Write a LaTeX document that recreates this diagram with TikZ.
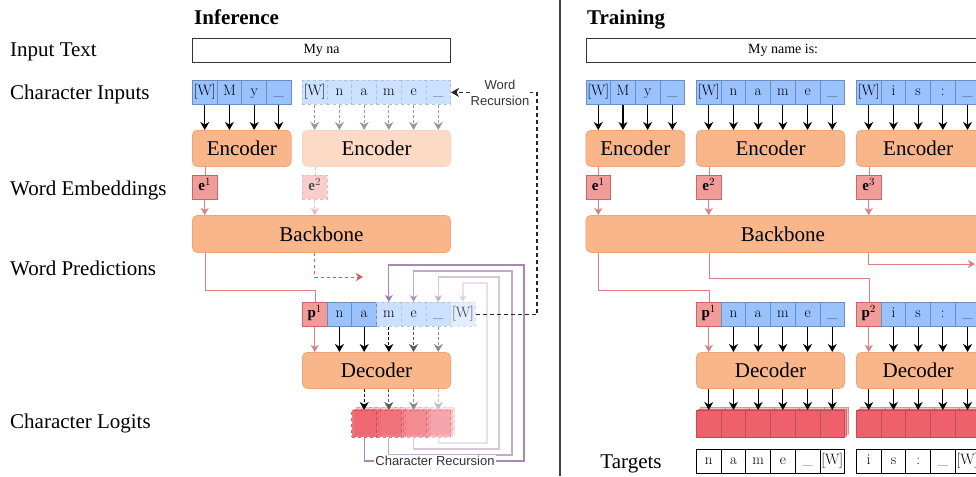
\documentclass[tikz,border=0pt]{standalone}
\usepackage{fontspec}
\setmainfont{Liberation Serif}
\newfontfamily\sansf{Liberation Sans}
\newfontfamily\lmfont{Latin Modern Roman}
\usetikzlibrary{arrows.meta,positioning,calc}

\definecolor{cellblue}{HTML}{99C2FF}
\definecolor{cellline}{HTML}{6C8EBF}
\definecolor{boxorange}{HTML}{F9B68A}
\definecolor{boxline}{HTML}{EFA577}
\definecolor{embred}{HTML}{F19C99}
\definecolor{embline}{HTML}{C8646A}
\definecolor{logitred}{HTML}{EE606B}
\definecolor{predline}{HTML}{DB7F80}
\definecolor{predred}{HTML}{D65B5F}
\definecolor{recpurple}{HTML}{9673A6}

\tikzset{
  lbl/.style={anchor=base west, inner sep=0pt, font=\fontsize{21}{24}\selectfont},
  ttl/.style={anchor=base west, inner sep=0pt, font=\bfseries\fontsize{21}{24}\selectfont},
  txtbox/.style={draw=black!80, line width=1.2pt, anchor=north west, minimum height=24pt, inner sep=0pt, font=\fontsize{14}{16}\selectfont},
  chr/.style={draw=cellline, fill=cellblue, anchor=north west, minimum width=24.7pt, minimum height=24pt, inner sep=0pt, text height=10.5pt, text depth=3.5pt, line width=0.8pt, font=\lmfont\fontsize{15}{16}\selectfont},
  ghost/.style={chr, dashed, draw=cellline!55, fill=cellblue!50},
  ghost2/.style={chr, dashed, draw=cellline!30, fill=cellblue!28, text=black!75},
  emb/.style={chr, draw=embline, fill=embred},
  logit/.style={chr, draw=logitred!80!black, fill=logitred, minimum height=27pt},
  tgt/.style={chr, draw=black, fill=white},
  block/.style={draw=boxline, fill=boxorange, rounded corners=5pt, anchor=north west, minimum height=36pt, inner sep=0pt, line width=0.8pt, font=\fontsize{21}{24}\selectfont},
  arr/.style={-{Stealth[length=8pt,width=9pt,inset=2.5pt]}, line width=1.2pt},
  thinarr/.style={-{Stealth[length=7pt,width=8pt,inset=2pt]}, line width=1pt},
  reclbl/.style={font=\sansf\fontsize{13}{16}\selectfont, fill=white, inner sep=1pt, align=center, text=black!80},
}

\begin{document}
\begin{tikzpicture}[x=1pt,y=-1pt]
\useasboundingbox (0,0) rectangle (976,476);
\clip (0,0) rectangle (976,476);

% divider between the two panels
\draw[black!75, line width=1.3pt] (560,0) -- (560,476);

% row labels
\node[lbl] (lin) at (10,57) {Input Text};
\node[lbl] (lci) at (10,100) {Character Inputs};
\node[lbl] (lwe) at (10,195) {Word Embeddings};
\node[lbl] (lwp) at (10,275) {Word Predictions};
\node[lbl] (lcl) at (10,428) {Character Logits};
\node[ttl] (tinf) at (194,25) {Inference};
\node[ttl] (ttrn) at (587,25) {Training};

%%%%%%%%%% Inference %%%%%%%%%%
\node[txtbox, minimum width=258pt] (itext) at (192,38) {My na};

% character inputs
\foreach \c [count=\i] in {{[W]},M,y,\_}
  \node[chr] (ia\i) at ({192+24.7*(\i-1)},80) {\c};
\foreach \c [count=\i] in {{[W]},n,a,m,e,\_}
  \node[ghost] (ib\i) at ({302+24.7*(\i-1)},80) {\c};

% encoders
\node[block, minimum width=98.8pt] (ienc1) at (192,130) {Encoder};
\node[block, minimum width=148.2pt, fill=boxorange!50, draw=boxline!45] (ienc2) at (302,130) {Encoder};
\foreach \i in {1,...,4}
  \draw[arr] (ia\i.south) -- (ia\i.south |- ienc1.north);
\foreach \i in {1,...,6}
  \draw[arr, black!40, dash pattern=on 3pt off 2pt] (ib\i.south) -- (ib\i.south |- ienc2.north);

% word embeddings
\node[emb] (ie1) at (192,175) {$\mathbf{e}^1$};
\node[emb, dashed, draw=embline!45, fill=embred!50, text=black!70] (ie2) at (302,175) {$\mathbf{e}^2$};

% backbone
\node[block, minimum width=258pt, minimum height=37pt] (ibb) at (192,215) {Backbone};
\draw[predline] (ie1.north |- ienc1.south) -- (ie1.north);
\draw[thinarr, predline] (ie1.south) -- (ie1.south |- ibb.north);
\draw[predline!55, dashed] (ie2.north |- ienc2.south) -- (ie2.north);
\draw[thinarr, predline!55, dashed] (ie2.south) -- (ie2.south |- ibb.north);

% word predictions
\node[emb] (id1) at (302,302) {$\mathbf{p}^1$};
\foreach \c [count=\i from 2] in {n,a}
  \node[chr] (id\i) at ({302+24.7*(\i-1)},302) {\c};
\foreach \c [count=\i from 4] in {m,e,\_}
  \node[ghost] (id\i) at ({302+24.7*(\i-1)},302) {\c};
\node[ghost2] (id7) at ({302+24.7*6},302) {[W]};

\draw[predline] (ie1.south |- ibb.south) -- ++(0,37) -| (id1.north);
\coordinate (inext) at (363,277);
\draw[thinarr, predred, dashed] (ie2.south |- ibb.south) |- (inext);

% decoder
\node[block, minimum width=148.2pt] (idec) at (302,352) {Decoder};
\draw[thinarr, predline] (id1.south) -- (id1.south |- idec.north);
\foreach \i in {2,3}
  \draw[arr] (id\i.south) -- (id\i.south |- idec.north);
\foreach \i/\col in {4/black, 5/black!65, 6/black!45}
  \draw[arr, \col, dash pattern=on 3pt off 2pt] (id\i.south) -- (id\i.south |- idec.north);

% character logits
\foreach \k/\op in {1/0.85, 2/0.7, 3/0.5, 4/0.35} {
  \node[logit, dashed, opacity=\op*0.45] at ({351.4+24.7*(\k-1)+4},407) {};
  \node[logit, dashed, opacity=\op*0.6] at ({351.4+24.7*(\k-1)+2},408.5) {};
  \node[logit, dashed, opacity=\op] (il\k) at ({351.4+24.7*(\k-1)},410) {};
}
\foreach \k/\col in {1/black, 2/black!65, 3/black!45, 4/black!25}
  \draw[arr, \col, dash pattern=on 3pt off 2pt] (il\k.north |- idec.south) -- (il\k.north);

% character recursion
\foreach \k/\m/\r/\b/\t/\op in {1/4/524/461/265/0.85, 2/5/512/455/271/0.6, 3/6/499/449/277/0.4, 4/7/487/443/283/0.22}
  \draw[thinarr, recpurple, line width=1.2pt, draw opacity=\op, fill opacity=\op]
    (il\k.south) -- (il\k.south |- 0,\b) -- (\r,\b) -- (\r,\t) -- (id\m.north |- 0,\t) -- (id\m.north);
\node[reclbl] (crec) at (435,461) {Character Recursion};

% word recursion
\coordinate (wturn) at (537,0);
\draw[arr, black!85, line width=1.1pt, dash pattern=on 4pt off 3pt]
  (id7.east) -- (id7.east -| wturn) -- (ib6.east -| wturn) -- (ib6.east);
\node[reclbl] (wrec) at (500,93) {Word\\Recursion};

%%%%%%%%%% Training %%%%%%%%%%
\node[txtbox, minimum width=394pt] (ttext) at (585.5,38) {My name is:};

% character inputs
\foreach \c [count=\i] in {{[W]},M,y,\_}
  \node[chr] (ta\i) at ({585.5+24.7*(\i-1)},80) {\c};
\foreach \c [count=\i] in {{[W]},n,a,m,e,\_}
  \node[chr] (tb\i) at ({696+24.7*(\i-1)},80) {\c};
\foreach \c [count=\i] in {{[W]},i,s,:,\_}
  \node[chr] (tc\i) at ({856+24.7*(\i-1)},80) {\c};

% encoders
\node[block, minimum width=98.8pt] (tenc1) at (585.5,130) {Encoder};
\node[block, minimum width=148.2pt] (tenc2) at (696,130) {Encoder};
\node[block, minimum width=123.5pt] (tenc3) at (856,130) {Encoder};
\foreach \i in {1,...,4}
  \draw[arr] (ta\i.south) -- (ta\i.south |- tenc1.north);
\foreach \i in {1,...,6}
  \draw[arr] (tb\i.south) -- (tb\i.south |- tenc2.north);
\foreach \i in {1,...,5}
  \draw[arr] (tc\i.south) -- (tc\i.south |- tenc3.north);

% word embeddings
\node[emb] (te1) at (585.5,175) {$\mathbf{e}^1$};
\node[emb] (te2) at (696,175) {$\mathbf{e}^2$};
\node[emb] (te3) at (856,175) {$\mathbf{e}^3$};

% backbone
\node[block, minimum width=394pt, minimum height=37pt] (tbb) at (585.5,215) {Backbone};
\foreach \i in {1,2,3} {
  \draw[predline] (te\i.north |- tenc\i.south) -- (te\i.north);
  \draw[thinarr, predline] (te\i.south) -- (te\i.south |- tbb.north);
}

% word predictions
\node[emb] (tp1) at (696,302) {$\mathbf{p}^1$};
\foreach \c [count=\i from 2] in {n,a,m,e,\_}
  \node[chr] (tp\i) at ({696+24.7*(\i-1)},302) {\c};
\node[emb] (tq1) at (856,302) {$\mathbf{p}^2$};
\foreach \c [count=\i from 2] in {i,s,:,\_}
  \node[chr] (tq\i) at ({856+24.7*(\i-1)},302) {\c};

\draw[predline] (te1.south |- tbb.south) -- ++(0,37) -| (tp1.north);
\draw[predline] (te2.south |- tbb.south) -- ++(0,25) -| (tq1.north);
\coordinate (tnext) at (975,264);
\draw[thinarr, predline] (te3.south |- tbb.south) |- (tnext);

% decoders
\node[block, minimum width=148.2pt] (tdec1) at (696,352) {Decoder};
\node[block, minimum width=123.5pt] (tdec2) at (856,352) {Decoder};
\draw[thinarr, predline] (tp1.south) -- (tp1.south |- tdec1.north);
\draw[thinarr, predline] (tq1.south) -- (tq1.south |- tdec2.north);
\foreach \i in {2,...,6}
  \draw[arr] (tp\i.south) -- (tp\i.south |- tdec1.north);
\foreach \i in {2,...,5}
  \draw[arr] (tq\i.south) -- (tq\i.south |- tdec2.north);

% character logits
\foreach \i in {1,...,6} {
  \node[logit, opacity=0.4] at ({696+24.7*(\i-1)+4},407) {};
  \node[logit, opacity=0.55] at ({696+24.7*(\i-1)+2},408.5) {};
  \node[logit] (tl\i) at ({696+24.7*(\i-1)},410) {};
  \draw[arr] (tl\i.north |- tdec1.south) -- (tl\i.north);
}
\foreach \i in {1,...,5} {
  \node[logit, opacity=0.4] at ({856+24.7*(\i-1)+4},407) {};
  \node[logit, opacity=0.55] at ({856+24.7*(\i-1)+2},408.5) {};
  \node[logit] (tm\i) at ({856+24.7*(\i-1)},410) {};
  \draw[arr] (tm\i.north |- tdec2.south) -- (tm\i.north);
}

% targets
\node[lbl, anchor=base] (ltg) at (631,468) {Targets};
\foreach \c [count=\i] in {n,a,m,e,\_,{[W]}}
  \node[tgt] (tt\i) at ({696+24.7*(\i-1)},449) {\c};
\foreach \c [count=\i] in {i,s,:,\_,{[W]}}
  \node[tgt] (tu\i) at ({856+24.7*(\i-1)},449) {\c};

\end{tikzpicture}
\end{document}
